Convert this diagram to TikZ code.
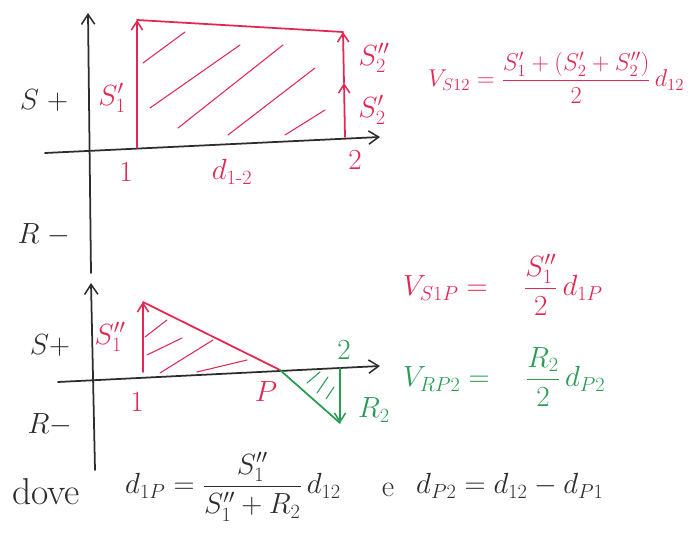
\documentclass[tikz,border=0pt]{standalone}
\usepackage{amsmath}
\usetikzlibrary{arrows.meta}
\definecolor{pen}{RGB}{226,40,82}
\definecolor{gpen}{RGB}{40,155,85}
\definecolor{ink}{RGB}{45,45,45}
\tikzset{
  axis/.style={ink, line width=1.5pt, line cap=round, -{Straight Barb[length=3mm,width=4mm,line width=1.3pt]}},
  rline/.style={pen, line width=1.5pt, line cap=round},
  gline/.style={gpen, line width=1.5pt, line cap=round},
  rarrow/.style={rline, -{Straight Barb[length=2.6mm,width=3.4mm,line width=1.3pt]}},
  garrow/.style={gline, -{Straight Barb[length=2.6mm,width=3.4mm,line width=1.3pt]}},
  hatch/.style={pen, line width=0.9pt, line cap=round},
  ghatch/.style={gpen, line width=0.9pt, line cap=round},
  big/.style={inner sep=0pt, font=\fontsize{32}{34}\selectfont},
  mid/.style={inner sep=0pt, font=\fontsize{26}{28}\selectfont},
  small/.style={inner sep=0pt, font=\fontsize{25}{27}\selectfont},
  eqtop/.style={inner sep=0pt, font=\fontsize{21}{24}\selectfont},
  eqn/.style={inner sep=0pt, font=\fontsize{24}{26}\selectfont},
}
\begin{document}
\begin{tikzpicture}[x=0.03cm,y=-0.03cm]
\useasboundingbox (0,0) rectangle (693,539);
% ---------- top chart ----------
\coordinate (tv0) at (91,273);
\coordinate (tv1) at (88,13);
\coordinate (th0) at (45,153);
\coordinate (th1) at (380,137);
\draw[axis] (tv0) -- (tv1);
\draw[axis] (th0) -- (th1);
\coordinate (a0) at (137,148);
\coordinate (a1) at (137,20);
\coordinate (b1) at (343,32);
\coordinate (b0) at (345,137);
\coordinate (bm) at (344,83);
\draw[rarrow] (a0) -- (a1);
\draw[rline] (a1) -- (b1);
\draw[rarrow] (b0) -- (bm);
\draw[rarrow] (bm) -- (b1);
\draw[hatch] (143,63) -- (185,32);
\draw[hatch] (150,108) -- (240,45);
\draw[hatch] (178,128) -- (283,45);
\draw[hatch] (228,135) -- (315,68);
\draw[hatch] (285,135) -- (325,110);
\node[big, ink] (tS) at (44,100) {$S\;+$};
\node[big, ink] (tR) at (44,235) {$R\;-$};
\node[mid, pen] (ts1) at (112,98) {$S_1'$};
\node[mid, pen] (ts2b) at (374,58) {$S_2''$};
\node[mid, pen] (ts2a) at (372,110) {$S_2'$};
\node[mid, pen] (t1) at (126,172) {$1$};
\node[mid, pen] (td) at (232,172) {$d_{1\text{-}2}$};
\node[mid, pen] (t2) at (355,160) {$2$};
\node[eqtop, pen, anchor=west] (eq1) at (428,78) {$V_{S12}=\dfrac{S_1'+(S_2'+S_2'')}{2}\,d_{12}$};
% ---------- bottom chart ----------
\coordinate (bv0) at (95,470);
\coordinate (bv1) at (91,283);
\coordinate (bh0) at (58,382);
\coordinate (bh1) at (380,366);
\draw[axis] (bv0) -- (bv1);
\draw[axis] (bh0) -- (bh1);
\coordinate (c0) at (143,372);
\coordinate (c1) at (143,302);
\coordinate (p) at (280,370);
\coordinate (d0) at (340,368);
\coordinate (d1) at (340,423);
\draw[rarrow] (c0) -- (c1);
\draw[rline] (c1) -- (p);
\draw[gline] (p) -- (d1);
\draw[garrow] (d0) -- (d1);
\draw[hatch] (145,337) -- (167,320);
\draw[hatch] (147,355) -- (182,338);
\draw[hatch] (160,373) -- (213,340);
\draw[hatch] (197,372) -- (247,360);
\draw[ghatch] (307,383) -- (320,372);
\draw[ghatch] (317,393) -- (328,377);
\draw[ghatch] (326,399) -- (334,387);
\node[small, ink] (bS) at (50,345) {$S{+}$};
\node[small, ink] (bR) at (50,425) {$R{-}$};
\node[mid, pen] (bs1) at (110,337) {$S_1''$};
\node[mid, pen] (b1l) at (137,402) {$1$};
\node[mid, pen] (bp) at (266,392) {$P$};
\node[mid, gpen] (b2) at (344,350) {$2$};
\node[mid, gpen] (br2) at (374,410) {$R_2$};
\node[eqn, pen, anchor=west] (eq2) at (403,285) {$V_{S1P}=\quad\dfrac{S_1''}{2}\,d_{1P}$};
\node[eqn, gpen, anchor=west] (eq3) at (403,377) {$V_{RP2}=\quad\dfrac{R_2}{2}\,d_{P2}$};
% ---------- bottom line ----------
\node[inner sep=0pt, ink, anchor=west, font=\fontsize{32}{34}\selectfont] (dove) at (12,492) {dove};
\node[eqn, ink, anchor=west] (eq4) at (125,487) {$d_{1P}=\dfrac{S_1''}{S_1''+R_2}\,d_{12}$};
\node[mid, ink] (e) at (388,490) {e};
\node[eqn, ink, anchor=west] (eq5) at (416,486) {$d_{P2}=d_{12}-d_{P1}$};
\end{tikzpicture}
\end{document}
